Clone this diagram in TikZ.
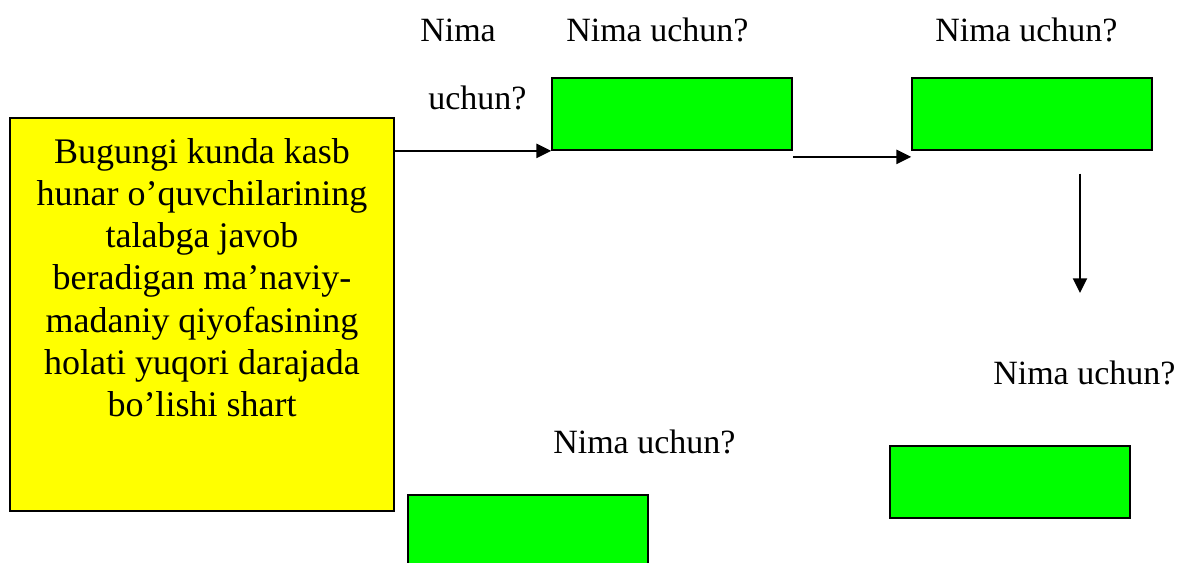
\documentclass[tikz,border=0pt]{standalone}
\usepackage{fontspec}
\setmainfont{Liberation Serif}
\usepackage{xcolor}
\usetikzlibrary{positioning,arrows.meta}
\definecolor{goalyellow}{HTML}{FFFF00}
\definecolor{boxgreen}{HTML}{00FF00}

\begin{document}
\begin{tikzpicture}[x=0.75pt, y=-0.75pt,
  goalbox/.style={draw, line width=1.2pt, fill=goalyellow, minimum width=288pt, minimum height=294.75pt, inner sep=0pt},
  goaltext/.style={align=center, inner sep=0pt, font=\fontsize{27}{31.7}\selectfont},
  ans/.style={draw, line width=1.3pt, fill=boxgreen, minimum width=180pt, minimum height=54pt, inner sep=0pt},
  ask/.style={anchor=base west, inner sep=0pt, font=\fontsize{25.5}{30}\selectfont},
  lnk/.style={line width=1.5pt, -{Triangle[length=11pt,width=10.5pt]}}]
\useasboundingbox (0,0) rectangle (1181,563);
\node[goalbox] (goal) at (202,314.5) {};
\node[goaltext, below=15.5pt of goal.north] (goaltxt) {Bugungi kunda kasb\\hunar o’quvchilarining\\talabga javob\\beradigan ma’naviy-\\madaniy qiyofasining\\holati yuqori darajada\\bo’lishi shart};
\node[ans] (first)  at (672,114) {};
\node[ans] (second) at (1032,114) {};
\node[ans] (third)  at (1010,482) {};
\node[ans] (fourth) at (528,531) {};
% savollar
\node[ask] (q1a) at (420,41.7) {Nima};
\node[ask] (q1b) at (428,110) {uchun?};
\node[ask] (q2)  at (566,41.7) {Nima uchun?};
\node[ask] (q3)  at (935,41.7) {Nima uchun?};
\node[ask] (q4)  at (993,384) {Nima uchun?};
\node[ask] (q5)  at (553,453) {Nima uchun?};
% strelkalar
\coordinate (drop) at (1080,293);
\draw[lnk] (goal.east |- first.south) -- (first.south west);
\draw[lnk] ([yshift=-4.5pt]first.south east) -- ([yshift=-4.5pt]second.south west);
\draw[lnk] ([xshift=36pt,yshift=-17pt]second.south) -- (drop);
\end{tikzpicture}
\end{document}
